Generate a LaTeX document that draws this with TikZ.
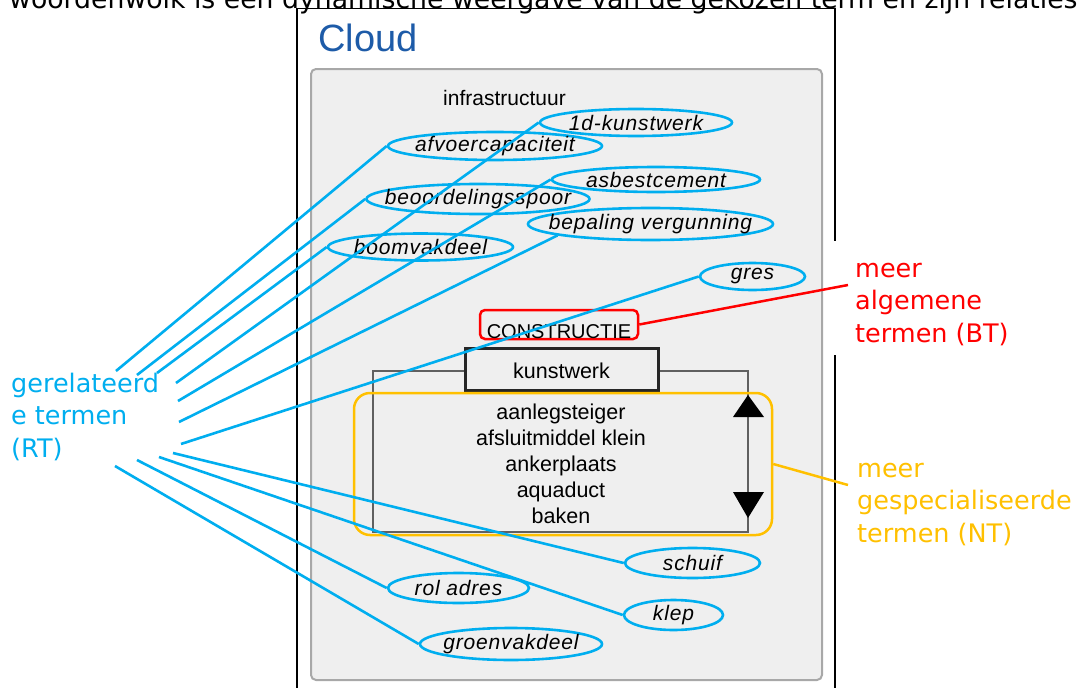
\documentclass[tikz,border=0pt]{standalone}
\usepackage{fontspec}
\setmainfont{Liberation Sans}
\newfontfamily\verd{DejaVu Sans}
\newfontfamily\termfont[LetterSpace=4]{Liberation Sans}
\usetikzlibrary{shapes.geometric}
\definecolor{rtblue}{HTML}{00AEEF}
\definecolor{btred}{HTML}{FF0000}
\definecolor{ntorange}{HTML}{FFC000}
\definecolor{panelgray}{HTML}{EFEFEF}
\definecolor{panelborder}{HTML}{A8A8A8}
\definecolor{cloudblue}{HTML}{1D5BA8}
\definecolor{listgray}{HTML}{606060}
\begin{document}
\begin{tikzpicture}[x=1pt,y=-1pt,
  term/.style={ellipse, draw=rtblue, line width=2.6pt, inner sep=0pt},
  termtext/.style={font=\termfont\fontsize{21}{24}\selectfont\itshape, inner sep=0pt},
  rtline/.style={draw=rtblue, line width=2.6pt},
  callout/.style={font=\verd\fontsize{25.5}{32.5}\selectfont, align=left, anchor=north west, inner sep=0pt},
  plain/.style={font=\fontsize{21}{26}\selectfont, text=black, inner sep=0pt},
]
\useasboundingbox (0,0) rectangle (1079,688);
\fill[white] (0,0) rectangle (1079,688);

% top caption (cut at the top edge)
\node[font=\verd\fontsize{26.7}{30}\selectfont, anchor=base west, inner sep=0pt] (caption) at (9,9)
  {woordenwolk is een dynamische weergave van de gekozen term en zijn relaties};

% outer frame
\draw[black, line width=1.2pt] (297,700) -- (297,8.5) -- (835,8.5) -- (835,241);
\draw[black, line width=1.2pt] (835,355) -- (835,700);

% panel
\draw[panelborder, fill=panelgray, line width=2pt, rounded corners=5pt] (311,69) rectangle (822,680);

% title
\node[font=\fontsize{38}{40}\selectfont, text=cloudblue, anchor=base west, inner sep=0pt] (title) at (318,51) {Cloud};

\node[plain, anchor=base] (infra) at (504.5,105) {infrastructuur};

% related term ellipses
\node[term, minimum width=192pt, minimum height=27pt, label={[termtext]center:1d-kunstwerk}] (kw1d) at (636,122.5) {};
\node[term, minimum width=214pt, minimum height=28pt, label={[termtext]center:afvoercapaciteit}] (afvoer) at (495,146) {};
\node[term, minimum width=208pt, minimum height=25pt, label={[termtext]center:asbestcement}] (asbest) at (656,179.5) {};
\node[term, minimum width=223pt, minimum height=30pt, label={[termtext]center:beoordelingsspoor}] (beoord) at (478,199) {};
\node[term, minimum width=245pt, minimum height=32pt, label={[termtext]center:bepaling vergunning}] (bepaling) at (650.5,224) {};
\node[term, minimum width=185pt, minimum height=27pt, label={[termtext]center:boomvakdeel}] (boom) at (420.5,247) {};
\node[term, minimum width=105pt, minimum height=27pt, label={[termtext]center:gres}] (gres) at (752.5,276.5) {};
\node[term, minimum width=135pt, minimum height=30pt, label={[termtext]center:schuif}] (schuif) at (692.5,563) {};
\node[term, minimum width=141pt, minimum height=30pt, label={[termtext]center:rol adres}] (roladres) at (458.5,588) {};
\node[term, minimum width=99pt, minimum height=30pt, label={[termtext]center:klep}] (klep) at (673.5,615) {};
\node[term, minimum width=182pt, minimum height=32pt, label={[termtext]center:groenvakdeel}] (groen) at (511,644) {};

% broader term
\node[draw=btred, line width=2.5pt, rounded corners=5pt, minimum width=158pt, inner xsep=0pt, inner ysep=0pt,
      text height=28pt, text depth=1pt, font=\fontsize{20}{24}\selectfont, anchor=base] (constructie) at (559,338) {CONSTRUCTIE};

% narrower term list box
\draw[listgray, line width=2pt] (373,371) rectangle (748,532);
\node[draw=black!85, fill=panelgray, line width=3pt, minimum width=193pt, inner xsep=0pt, inner ysep=0pt,
      text height=30pt, text depth=12pt, font=\fontsize{21.5}{24}\selectfont, anchor=base] (kunstwerk) at (561.5,378) {kunstwerk};
\node[plain, align=center, anchor=north, font=\fontsize{21.5}{26}\selectfont] (ntlist) at (561,403)
  {\rule{0pt}{16pt}aanlegsteiger\\afsluitmiddel klein\\ankerplaats\\aquaduct\\baken};
\fill[black] (748,395) -- (764,417) -- (733,417) -- cycle;
\fill[black] (733,492) -- (764,492) -- (748,518) -- cycle;

\node[draw=ntorange, line width=2.5pt, rounded corners=16pt, minimum width=418pt, minimum height=142pt, inner sep=0pt] (ntbox) at (563,464) {};

% left free ends of the RT connectors
\coordinate (r1) at (116,371);
\coordinate (r2) at (137,375);
\coordinate (r3) at (157,373);
\coordinate (r4) at (176,383);
\coordinate (r5) at (178,401);
\coordinate (r6) at (179,422);
\coordinate (r7) at (181,444);
\coordinate (r8) at (173,453);
\coordinate (r9) at (159,457);
\coordinate (r10) at (137,460);
\coordinate (r11) at (115,466);

\draw[rtline] (r1) -- (afvoer.west);
\draw[rtline] (r2) -- (beoord.west);
\draw[rtline] (r3) -- (boom.west);
\draw[rtline] (r4) -- (kw1d.west);
\draw[rtline] (r5) -- (asbest.west);
\draw[rtline] (r6) -- (bepaling.187);
\draw[rtline] (r7) -- (gres.west);
\draw[rtline] (r8) -- (schuif.west);
\draw[rtline] (r9) -- (klep.west);
\draw[rtline] (r10) -- (roladres.west);
\draw[rtline] (r11) -- (groen.west);

% callouts
\node[callout, text=rtblue] (rt) at (11,372) {\rule{0pt}{20pt}gerelateerd\\e termen\\(RT)};
\node[callout, text=btred] (bt) at (855,257) {\rule{0pt}{20pt}meer\\algemene\\termen (BT)};
\node[callout, text=ntorange] (nt) at (857,457) {\rule{0pt}{20pt}meer\\gespecialiseerde\\termen (NT)};

\coordinate (btend) at (848,285);
\coordinate (ntend) at (848,485);
\draw[btred, line width=2.5pt] (constructie.east) -- (btend);
\draw[ntorange, line width=2.5pt] (ntbox.east) -- (ntend);
\end{tikzpicture}
\end{document}
